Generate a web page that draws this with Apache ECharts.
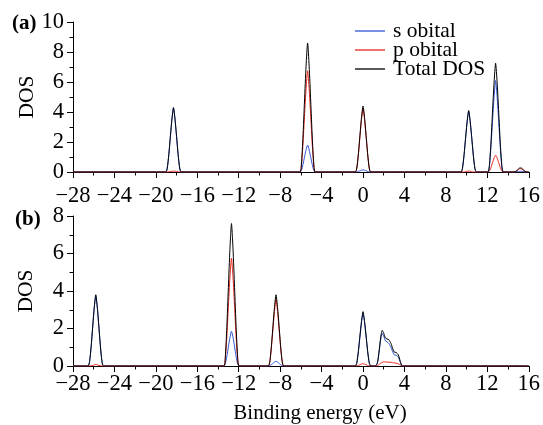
<!DOCTYPE html>
<html>
<head>
<meta charset="utf-8">
<script src="https://cdn.jsdelivr.net/npm/echarts@6/dist/echarts.min.js"></script>
<style>
html,body{margin:0;padding:0;background:#fff;}
#c{width:543px;height:425px;}
</style>
</head>
<body>
<div id="c"></div>
<script>
// Panel (a) data: [energy (eV), DOS]
const aTotal = [[-28,0],
[-19.05,0],[-18.9,0.26],[-18.75,1.16],[-18.6,2.37],[-18.45,3.53],[-18.3,4.3],[-18.15,3.53],[-18.0,2.37],[-17.85,1.16],[-17.7,0.26],[-17.55,0],
[-6.1,0],[-5.95,0.52],[-5.8,2.32],[-5.65,4.73],[-5.5,7.05],[-5.35,8.6],[-5.2,7.05],[-5.05,4.73],[-4.9,2.32],[-4.75,0.52],[-4.6,0],
[-0.75,0],[-0.6,0.26],[-0.45,1.19],[-0.3,2.42],[-0.15,3.61],[0,4.4],[0.15,3.61],[0.3,2.42],[0.45,1.19],[0.6,0.26],[0.75,0],
[9.45,0],[9.6,0.25],[9.75,1.11],[9.9,2.26],[10.05,3.36],[10.2,4.1],[10.35,3.36],[10.5,2.26],[10.65,1.11],[10.8,0.25],[10.95,0],
[12.05,0],[12.2,0.44],[12.35,1.96],[12.5,3.99],[12.65,5.95],[12.8,7.25],[12.95,5.95],[13.1,3.99],[13.25,1.96],[13.4,0.44],[13.55,0],
[14.5,0],[14.7,0.03],[14.85,0.1],[15.0,0.2],[15.1,0.26],[15.2,0.27],[15.3,0.26],[15.4,0.2],[15.55,0.1],[15.7,0.03],[15.9,0],[16,0]];
const aS = [[-28,0],
[-19.05,0],[-18.9,0.26],[-18.75,1.15],[-18.6,2.34],[-18.45,3.49],[-18.3,4.25],[-18.15,3.49],[-18.0,2.34],[-17.85,1.15],[-17.7,0.26],[-17.55,0],
[-6.1,0],[-5.95,0.11],[-5.8,0.49],[-5.65,0.99],[-5.5,1.48],[-5.35,1.8],[-5.2,1.48],[-5.05,0.99],[-4.9,0.49],[-4.75,0.11],[-4.6,0],
[-0.75,0],[-0.6,0.01],[-0.45,0.04],[-0.3,0.08],[-0.15,0.12],[0,0.15],[0.15,0.12],[0.3,0.08],[0.45,0.04],[0.6,0.01],[0.75,0],
[9.45,0],[9.6,0.24],[9.75,1.09],[9.9,2.23],[10.05,3.32],[10.2,4.05],[10.35,3.32],[10.5,2.23],[10.65,1.09],[10.8,0.24],[10.95,0],
[12.05,0],[12.2,0.37],[12.35,1.65],[12.5,3.36],[12.65,5.0],[12.8,6.1],[12.95,5.0],[13.1,3.36],[13.25,1.65],[13.4,0.37],[13.55,0],
[14.7,0],[15.0,0.03],[15.2,0.05],[15.4,0.03],[15.7,0],[16,0]];
const aP = [[-28,0],
[-18.9,0],[-18.6,0.03],[-18.45,0.05],[-18.3,0.06],[-18.15,0.05],[-18.0,0.03],[-17.7,0],
[-6.1,0],[-5.95,0.41],[-5.8,1.82],[-5.65,3.71],[-5.5,5.54],[-5.35,6.75],[-5.2,5.54],[-5.05,3.71],[-4.9,1.82],[-4.75,0.41],[-4.6,0],
[-0.75,0],[-0.6,0.26],[-0.45,1.15],[-0.3,2.34],[-0.15,3.49],[0,4.25],[0.15,3.49],[0.3,2.34],[0.45,1.15],[0.6,0.26],[0.75,0],
[9.8,0],[10.05,0.05],[10.2,0.06],[10.35,0.05],[10.6,0],
[12.05,0],[12.2,0.07],[12.35,0.30],[12.5,0.62],[12.65,0.92],[12.8,1.12],[12.95,0.92],[13.1,0.62],[13.25,0.30],[13.4,0.07],[13.55,0],
[14.5,0],[14.7,0.02],[14.85,0.08],[15.0,0.16],[15.1,0.21],[15.2,0.22],[15.3,0.21],[15.4,0.16],[15.55,0.08],[15.7,0.02],[15.9,0],[16,0]];

// Panel (b) data
const bTotal = [[-28,0],
[-26.55,0],[-26.4,0.23],[-26.25,1.03],[-26.1,2.09],[-25.95,3.12],[-25.8,3.8],[-25.65,3.12],[-25.5,2.09],[-25.35,1.03],[-25.2,0.23],[-25.05,0],
[-13.45,0],[-13.3,0.46],[-13.15,2.05],[-13.0,4.18],[-12.85,6.23],[-12.7,7.6],[-12.55,6.23],[-12.4,4.18],[-12.25,2.05],[-12.1,0.46],[-11.95,0],
[-9.15,0],[-9.0,0.23],[-8.85,1.03],[-8.7,2.09],[-8.55,3.12],[-8.4,3.8],[-8.25,3.12],[-8.1,2.09],[-7.95,1.03],[-7.8,0.23],[-7.65,0],
[-0.75,0],[-0.6,0.17],[-0.45,0.78],[-0.3,1.60],[-0.15,2.38],[0,2.9],[0.15,2.38],[0.3,1.60],[0.45,0.78],[0.6,0.17],[0.75,0],
[1.2,0],[1.4,0.2],[1.55,0.8],[1.7,1.5],[1.85,1.9],[2.0,1.75],[2.15,1.5],[2.3,1.45],[2.5,1.4],[2.7,1.2],[2.85,0.95],[3.0,0.75],[3.2,0.72],[3.4,0.6],[3.6,0.25],[3.8,0],
[16,0]];
const bS = [[-28,0],
[-26.55,0],[-26.4,0.23],[-26.25,1.01],[-26.1,2.06],[-25.95,3.08],[-25.8,3.75],[-25.65,3.08],[-25.5,2.06],[-25.35,1.01],[-25.2,0.23],[-25.05,0],
[-13.45,0],[-13.3,0.11],[-13.15,0.50],[-13.0,1.02],[-12.85,1.52],[-12.7,1.85],[-12.55,1.52],[-12.4,1.02],[-12.25,0.50],[-12.1,0.11],[-11.95,0],
[-9.15,0],[-9.0,0.02],[-8.85,0.07],[-8.7,0.14],[-8.55,0.21],[-8.4,0.25],[-8.25,0.21],[-8.1,0.14],[-7.95,0.07],[-7.8,0.02],[-7.65,0],
[-0.75,0],[-0.6,0.17],[-0.45,0.76],[-0.3,1.54],[-0.15,2.30],[0,2.8],[0.15,2.30],[0.3,1.54],[0.45,0.76],[0.6,0.17],[0.75,0],
[1.2,0],[1.4,0.18],[1.55,0.72],[1.7,1.38],[1.85,1.75],[2.0,1.6],[2.15,1.35],[2.3,1.3],[2.5,1.2],[2.7,1.0],[2.85,0.78],[3.0,0.6],[3.2,0.57],[3.4,0.48],[3.6,0.2],[3.8,0],
[16,0]];
const bP = [[-28,0],
[-26.4,0],[-26.1,0.03],[-25.95,0.06],[-25.8,0.08],[-25.65,0.06],[-25.5,0.03],[-25.2,0],
[-13.45,0],[-13.3,0.35],[-13.15,1.55],[-13.0,3.16],[-12.85,4.72],[-12.7,5.75],[-12.55,4.72],[-12.4,3.16],[-12.25,1.55],[-12.1,0.35],[-11.95,0],
[-9.15,0],[-9.0,0.21],[-8.85,0.96],[-8.7,1.95],[-8.55,2.91],[-8.4,3.55],[-8.25,2.91],[-8.1,1.95],[-7.95,0.96],[-7.8,0.21],[-7.65,0],
[-0.75,0],[-0.6,0.01],[-0.45,0.03],[-0.3,0.07],[-0.15,0.10],[0,0.12],[0.15,0.10],[0.3,0.07],[0.45,0.03],[0.6,0.01],[0.75,0],
[1.2,0],[1.4,0.02],[1.55,0.08],[1.7,0.15],[1.85,0.2],[2.0,0.22],[2.15,0.22],[2.3,0.21],[2.5,0.2],[2.7,0.2],[2.85,0.18],[3.0,0.17],[3.2,0.15],[3.4,0.12],[3.6,0.05],[3.8,0],
[16,0]];

const seriesNames = ['s obital', 'p obital', 'Total DOS'];
const seriesColors = ['#2f55d4', '#e8241c', '#000000'];

const FONT = 'Liberation Serif';
const chart = echarts.init(document.getElementById('c'), null, {renderer: 'canvas'});

function xAxisCfg(gi, margin) {
  return {
    type: 'value', gridIndex: gi, min: -28, max: 16, interval: 4,
    axisLine: {show: true, onZero: false, lineStyle: {color: '#000', width: 1}},
    axisTick: {show: true, inside: false, length: 6, lineStyle: {color: '#000'}},
    minorTick: {show: true, splitNumber: 2, length: 3.5, lineStyle: {color: '#000'}},
    splitLine: {show: false},
    axisLabel: {color: '#000', fontFamily: FONT, fontSize: 22.5, margin: margin,
      formatter: v => String(v).replace('-', '\u2212')}
  };
}
function yAxisCfg(gi, max, gap) {
  return {
    type: 'value', gridIndex: gi, min: 0, max: max, interval: 2,
    name: 'DOS', nameLocation: 'middle', nameGap: gap, nameMoveOverlap: false,
    nameTextStyle: {color: '#000', fontFamily: FONT, fontSize: 21.5},
    axisLine: {show: true, onZero: false, lineStyle: {color: '#000', width: 1}},
    axisTick: {show: true, inside: false, length: 6, lineStyle: {color: '#000'}},
    minorTick: {show: true, splitNumber: 2, length: 3.5, lineStyle: {color: '#000'}},
    splitLine: {show: false},
    axisLabel: {color: '#000', fontFamily: FONT, fontSize: 22.5, margin: 9}
  };
}
function mk(name, color, data, gi) {
  return {
    name: name, type: 'line', xAxisIndex: gi, yAxisIndex: gi, data: data,
    showSymbol: false, symbol: 'none', smooth: 0.2,
    lineStyle: {color: color, width: 1}, itemStyle: {color: color},
    animation: false
  };
}

chart.setOption({
  backgroundColor: '#fff',
  animation: false,
  grid: [
    {left: 73, top: 22, width: 457, height: 150},
    {left: 73, top: 216, width: 457, height: 150}
  ],
  xAxis: [xAxisCfg(0, 13), xAxisCfg(1, 7)],
  yAxis: [yAxisCfg(0, 10, 35), yAxisCfg(1, 8, 36)],
  legend: {
    data: seriesNames, orient: 'vertical', left: 355, top: 20, padding: 0,
    icon: 'rect', itemWidth: 30, itemHeight: 1.3, itemGap: -3,
    textStyle: {color: '#000', fontFamily: FONT, fontSize: 21.5, padding: [0,0,0,3]}
  },
  graphic: [
    {type: 'text', left: 12, top: 13, style: {text: '(a)', font: 'bold 21px "Liberation Serif"', fill: '#000'}},
    {type: 'text', left: 15, top: 209, style: {text: '(b)', font: 'bold 21px "Liberation Serif"', fill: '#000'}},
    {type: 'text', x: 320, y: 413, style: {text: 'Binding energy (eV)', font: '21px "Liberation Serif"', fill: '#000', textAlign: 'center', textVerticalAlign: 'middle'}}
  ],
  series: [
    mk(seriesNames[0], seriesColors[0], aS, 0),
    mk(seriesNames[1], seriesColors[1], aP, 0),
    mk(seriesNames[2], seriesColors[2], aTotal, 0),
    mk(seriesNames[0], seriesColors[0], bS, 1),
    mk(seriesNames[1], seriesColors[1], bP, 1),
    mk(seriesNames[2], seriesColors[2], bTotal, 1)
  ]
});
</script>
</body>
</html>
